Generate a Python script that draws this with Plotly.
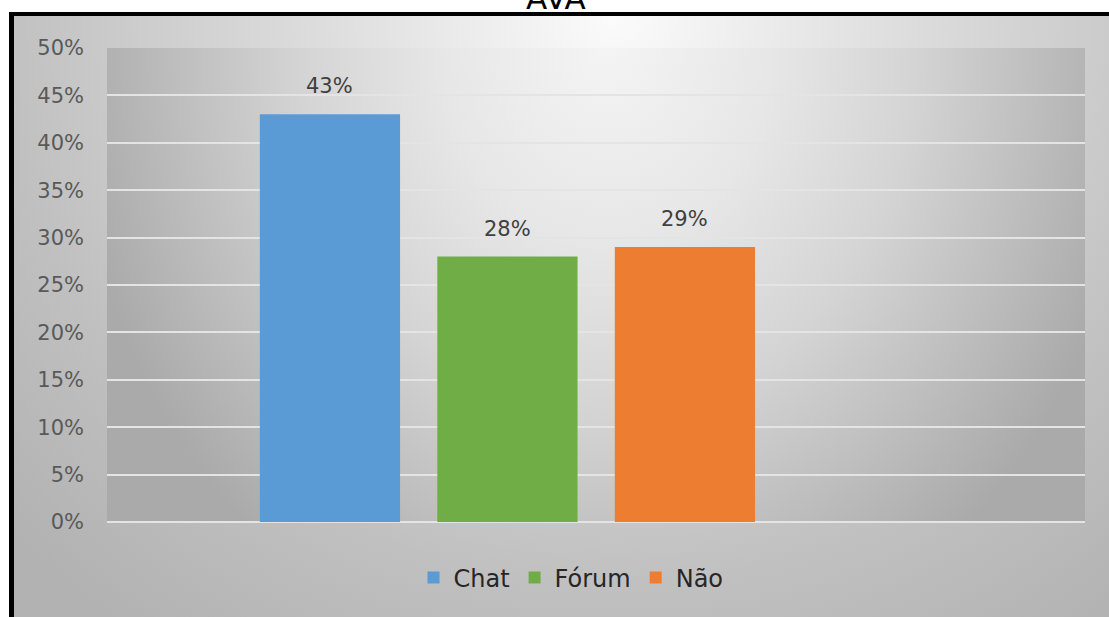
import base64
import plotly.graph_objects as go

# Survey answers for the "AVA" question
categories = ["Chat", "Fórum", "Não"]
shares = [0.43, 0.28, 0.29]
colors = ["#5B9BD5", "#70AD47", "#ED7D31"]
tick_values = [0, 0.05, 0.10, 0.15, 0.20, 0.25, 0.30, 0.35, 0.40, 0.45, 0.50]
tick_labels = ["0%", "5%", "10%", "15%", "20%", "25%", "30%", "35%", "40%", "45%", "50%"]

W, H = 1109, 617
ML, MR, MT, MB = 107, 24, 48, 95
PW, PH = W - ML - MR, H - MT - MB


def px(x):
    """Pixel column -> paper x."""
    return (x - ML) / PW


def py(y):
    """Pixel row -> paper y."""
    return (H - MB - y) / PH


def radial_gradient(w, h, cx, cy, rx, ry, stops):
    stop_xml = "".join(f'<stop offset="{o}" stop-color="{c}"/>' for o, c in stops)
    svg = (
        f'<svg xmlns="http://www.w3.org/2000/svg" width="{w}" height="{h}" '
        f'viewBox="0 0 {w} {h}" preserveAspectRatio="none"><defs>'
        f'<radialGradient id="g" gradientUnits="userSpaceOnUse" cx="0" cy="0" r="1" '
        f'gradientTransform="translate({cx} {cy}) scale({rx} {ry})">{stop_xml}'
        f'</radialGradient></defs><rect width="{w}" height="{h}" fill="url(#g)"/></svg>'
    )
    return "data:image/svg+xml;base64," + base64.b64encode(svg.encode()).decode()


fig = go.Figure()
for name, val, col in zip(categories, shares, colors):
    fig.add_trace(go.Bar(
        x=[name], y=[val], name=name, marker=dict(color=col, line=dict(width=0)),
        width=0.79, hoverinfo="skip",
    ))

# value labels above each bar
annotations = [
    dict(x=name, y=val, xref="x", yref="y", text=f"{round(val * 100)}%",
         showarrow=False, yanchor="middle", yshift=28,
         font=dict(family="DejaVu Sans", size=21, color="#404040"))
    for name, val in zip(categories, shares)
]
# chart title, mostly clipped by the top edge
annotations.append(dict(
    x=px(556), y=py(18), xref="paper", yref="paper", text="AVA", showarrow=False,
    xanchor="center", yanchor="bottom",
    font=dict(family="DejaVu Sans", size=31, color="#000000"),
))

outer_bg = radial_gradient(W - 14, H - 16, 600, 0, 820, 760,
                           [(0, "#fbfbfb"), (0.37, "#dcdcdc"), (0.75, "#c0c0c0"), (1, "#b2b2b2")])
plot_bg = radial_gradient(PW, PH, 500, 0, 540, 640,
                          [(0, "#f4f4f4"), (0.3, "#e7e7e7"), (0.57, "#d4d4d4"), (1, "#aaaaaa")])

images = [
    dict(source=outer_bg, xref="paper", yref="paper", x=px(14), y=py(16),
         sizex=(W - 14) / PW, sizey=(H - 16) / PH, sizing="stretch",
         xanchor="left", yanchor="top", layer="below"),
    dict(source=plot_bg, xref="paper", yref="paper", x=0, y=1,
         sizex=1, sizey=1, sizing="stretch",
         xanchor="left", yanchor="top", layer="below"),
]

# black frame along the top and left edges
shapes = [
    dict(type="rect", xref="paper", yref="paper", x0=px(9), x1=px(W + 2),
         y0=py(16), y1=py(12), fillcolor="#000000", line=dict(width=0), layer="below"),
    dict(type="rect", xref="paper", yref="paper", x0=px(9), x1=px(14),
         y0=py(H + 2), y1=py(12), fillcolor="#000000", line=dict(width=0), layer="below"),
]

fig.update_layout(
    width=W, height=H, autosize=False,
    margin=dict(l=ML, r=MR, t=MT, b=MB, pad=0),
    paper_bgcolor="#ffffff", plot_bgcolor="rgba(0,0,0,0)",
    barmode="overlay", showlegend=True,
    images=images, shapes=shapes, annotations=annotations,
    legend=dict(orientation="h", x=px(571), xanchor="center", y=py(578), yanchor="middle",
                bgcolor="rgba(0,0,0,0)", font=dict(family="DejaVu Sans", size=24, color="#262626"),
                traceorder="normal"),
    xaxis=dict(range=[-1.256, 4.254], showticklabels=False, showgrid=False,
               zeroline=False, showline=False, ticks="", fixedrange=True),
    yaxis=dict(range=[0, 0.5], tickvals=tick_values, ticktext=tick_labels,
               showgrid=True, gridcolor="#e4e4e4", gridwidth=2,
               zeroline=True, zerolinecolor="#e4e4e4", zerolinewidth=2,
               showline=False, ticks="", ticklabelstandoff=22,
               tickfont=dict(family="DejaVu Sans", size=21, color="#595959"),
               fixedrange=True),
)

fig.write_html("out.html")
